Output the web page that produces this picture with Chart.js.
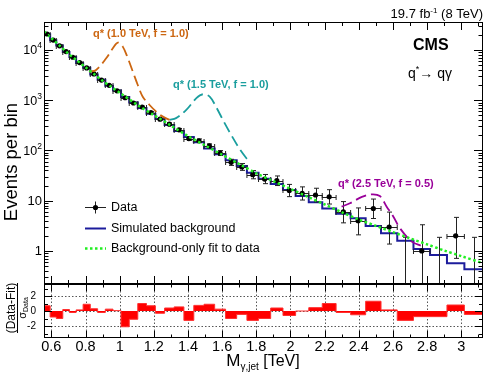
<!DOCTYPE html>
<html>
<head>
<meta charset="utf-8">
<script src="https://cdn.jsdelivr.net/npm/chart.js@4.4.0/dist/chart.umd.min.js"></script>
<style>
	html, body { margin: 0; padding: 0; background: #fff; }
	#wrap { position: relative; width: 498px; height: 375px; }
	canvas { position: absolute; left: 0; top: 0; }
</style>
</head>
<body>
<div id="wrap">
	<canvas id="mainPad" width="498" height="375"></canvas>
	<canvas id="pullPad" width="498" height="375"></canvas>
</div>
<script>
// bin edges of the photon+jet mass spectrum (TeV)
const massEdges = [0.557, 0.593, 0.629, 0.667, 0.706, 0.745, 0.786, 0.828, 0.871, 0.916,
	0.961, 1.008, 1.056, 1.106, 1.157, 1.209, 1.263, 1.319, 1.376, 1.434,
	1.494, 1.556, 1.620, 1.685, 1.745, 1.813, 1.884, 1.956, 2.030, 2.107,
	2.186, 2.267, 2.352, 2.440, 2.530, 2.625, 2.720, 2.817, 2.916, 3.018, 3.127];

// events per bin
const dataCounts = [20750, 15750, 12080, 9290, 7163, 5611, 4384, 3327, 2515, 1981,
	1537, 1118, 879, 733, 567, 420, 334, 257, 172, 156,
	123, 89, 58, 47, 33, 27, 25, 16, 14, 13,
	12, 6, 4, 7, 3, 0, 1, 0, 2, 0];

const simBackground = [20500, 15600, 12300, 9150, 7250, 5500, 4400, 3250, 2560, 1950,
	1560, 1160, 905, 700, 540, 425, 322, 245, 186, 146,
	110, 84, 64, 49, 36, 27.5, 21.5, 16.3, 12.4, 9.3,
	7.0, 5.5, 4.5, 3.15, 2.25, 1.6, 1.1, 0.83, 0.57, 0.43];

// (Data-Fit)/sigma per bin
const pulls = [0.7, -0.8, -1.0, 0.2, -0.2, 0.15, 0.9, 0.3, -0.2, 0.25,
	0.05, -2.1, -1.1, 1.0, 0.7, -0.3, 0.4, 0.55, -1.25, 0.75,
	0.9, 0.25, -1.0, -0.45, -1.25, -1.0, 0.4, -0.6, 0, 0.45,
	1.0, -0.2, -0.5, 1.3, 0.15, -1.25, -0.75, -0.75, 0.8, -0.45];

// background-only fit curve
const fitMass = [0.557, 0.6, 0.65, 0.7, 0.75, 0.8, 0.85, 0.9, 0.95, 1.0, 1.1, 1.2, 1.3, 1.4, 1.5,
	1.6, 1.7, 1.8, 1.9, 2.0, 2.1, 2.2, 2.3, 2.4, 2.5, 2.6, 2.7, 2.8, 2.9, 3.0, 3.127];
const fitValues = [23440, 17180, 12020, 8414, 6166, 4519, 3311, 2427, 1849, 1413, 822, 507, 313, 193, 126,
	82.2, 53.7, 35.1, 24.5, 17.2, 12.0, 8.41, 5.89, 4.22, 3.16, 2.37, 1.78, 1.35, 1.02, 0.79, 0.57];

// excited quark signal shapes
const q1000Mass = [0.823, 0.862, 0.921, 0.960, 0.989, 1.018, 1.048, 1.077, 1.106, 1.135, 1.175, 1.214, 1.253, 1.292];
const q1000Values = [3700, 4000, 6820, 10800, 14000, 11650, 6820, 3700, 2010, 1175, 803, 592, 471, 405];
const q1500Mass = [1.292, 1.33, 1.39, 1.449, 1.487, 1.527, 1.566, 1.605, 1.644, 1.70, 1.742, 1.765];
const q1500Values = [405, 440, 640, 1097, 1313, 1178, 720, 400, 230, 110, 70, 58];
const q2500Mass = [2.299, 2.348, 2.418, 2.475, 2.523, 2.563, 2.60, 2.641, 2.71, 2.768];
const q2500Values = [7.62, 8.89, 11.9, 13.4, 12.4, 7.62, 4.98, 2.83, 1.53, 1.26];

// axis ticks
const massTicks = [0.6, 0.8, 1.0, 1.2, 1.4, 1.6, 1.8, 2.0, 2.2, 2.4, 2.6, 2.8, 3.0];
const eventTicks = [1, 10, 100, 1000, 10000];
const pullTicks = [-2, 0, 2];

const FONT = "'Liberation Sans', Arial, Helvetica, sans-serif";
const COL_Q1000 = "#cc6611";
const COL_Q1500 = "#1a9e9e";
const COL_Q2500 = "#990099";
const COL_SIM = "#1c1c9c";
const COL_FIT = "#22ee22";

function garwoodLow(n) {
	if (n === 0) return 0;
	const a = 1 - 1 / (9 * n) - 1 / (3 * Math.sqrt(n));
	return n * a * a * a;
}
function garwoodHigh(n) {
	return n + 1 + Math.sqrt(n + 0.75);
}

function histPoints(edges, values) {
	const pts = values.map((v, i) => ({ x: edges[i], y: v }));
	pts.push({ x: edges[edges.length - 1], y: values[values.length - 1] });
	return pts;
}

function textWithSup(ctx, parts, x, y, align) {
	// parts: [text, size, dy, bold]
	let total = 0;
	parts.forEach((p) => {
		ctx.font = (p[3] ? "bold " : "") + p[1] + "px " + FONT;
		total += ctx.measureText(p[0]).width;
	});
	let cx = align === "right" ? x - total : align === "center" ? x - total / 2 : x;
	ctx.textAlign = "left";
	parts.forEach((p) => {
		ctx.font = (p[3] ? "bold " : "") + p[1] + "px " + FONT;
		ctx.fillText(p[0], cx, y + p[2]);
		cx += ctx.measureText(p[0]).width;
	});
}

const errorBars = {
	id: "errorBars",
	beforeDatasetDraw(chart, args) {
		if (chart.data.datasets[args.index].label !== "Data") return;
		const { ctx, chartArea: a, scales: { x, y } } = chart;
		ctx.save();
		ctx.beginPath();
		ctx.rect(a.left, a.top, a.right - a.left, a.bottom - a.top);
		ctx.clip();
		ctx.strokeStyle = "#222";
		ctx.lineWidth = 1;
		dataCounts.forEach((n, i) => {
			const xl = x.getPixelForValue(massEdges[i]);
			const xr = x.getPixelForValue(massEdges[i + 1]);
			const xc = Math.round((xl + xr) / 2) + 0.5;
			const yt = y.getPixelForValue(garwoodHigh(n));
			const yb = n > 0 ? y.getPixelForValue(garwoodLow(n)) : a.bottom + 10;
			ctx.beginPath();
			ctx.moveTo(xc, yt);
			ctx.lineTo(xc, yb);
			ctx.moveTo(xc - 2.5, yt);
			ctx.lineTo(xc + 2.5, yt);
			ctx.moveTo(xc - 2.5, yb);
			ctx.lineTo(xc + 2.5, yb);
			if (n > 0) {
				const yc = Math.round(y.getPixelForValue(n)) + 0.5;
				ctx.moveTo(xl, yc);
				ctx.lineTo(xr, yc);
				ctx.moveTo(xl, yc - 2.5);
				ctx.lineTo(xl, yc + 2.5);
				ctx.moveTo(xr, yc - 2.5);
				ctx.lineTo(xr, yc + 2.5);
			}
			ctx.stroke();
		});
		ctx.restore();
	},
};

const mainDecor = {
	id: "mainDecor",
	afterDraw(chart) {
		const { ctx, chartArea: a, scales: { x, y } } = chart;
		ctx.save();
		ctx.strokeStyle = "#000";
		ctx.fillStyle = "#000";
		ctx.lineWidth = 1;
		ctx.strokeRect(a.left + 0.5, a.top + 0.5, a.right - a.left - 1, a.bottom - a.top - 1);

		// x ticks, top and bottom, inside the frame
		ctx.beginPath();
		for (let m = 0.6; m < 3.13; m += 0.1) {
			const px = Math.round(x.getPixelForValue(m)) + 0.5;
			const major = massTicks.some((t) => Math.abs(t - m) < 1e-6);
			const len = major ? 8 : 4;
			ctx.moveTo(px, a.top);
			ctx.lineTo(px, a.top + len);
			ctx.moveTo(px, a.bottom);
			ctx.lineTo(px, a.bottom - len);
		}
		// y ticks, left and right
		for (let d = 0.1; d <= 10000; d *= 10) {
			for (let k = 1; k < 10; k++) {
				const v = d * k;
				if (v < y.min || v > y.max) continue;
				const py = Math.round(y.getPixelForValue(v)) + 0.5;
				const len = k === 1 ? 9 : 4.5;
				ctx.moveTo(a.left, py);
				ctx.lineTo(a.left + len, py);
				ctx.moveTo(a.right, py);
				ctx.lineTo(a.right - len, py);
			}
		}
		ctx.stroke();

		// y tick labels
		ctx.textBaseline = "middle";
		eventTicks.forEach((v) => {
			const py = y.getPixelForValue(v);
			if (v < 100) {
				ctx.font = "13px " + FONT;
				ctx.textAlign = "right";
				ctx.fillText(String(v), 42, py + 0.5);
			} else {
				const exp = String(Math.round(Math.log10(v)));
				textWithSup(ctx, [["10", 12.5, 1], [exp, 8.5, -4]], 42, py, "right");
			}
		});

		// y title
		ctx.save();
		ctx.translate(12, 162);
		ctx.rotate(-Math.PI / 2);
		ctx.font = "18.5px " + FONT;
		ctx.textAlign = "center";
		ctx.textBaseline = "middle";
		ctx.fillText("Events per bin", 0, 0);
		ctx.restore();

		// header
		ctx.textBaseline = "alphabetic";
		textWithSup(ctx, [["19.7 fb", 13, 0], ["-1", 8, -5], [" (8 TeV)", 13, 0]], 483, 17.5, "right");
		ctx.font = "bold 16px " + FONT;
		ctx.textAlign = "left";
		ctx.fillText("CMS", 413, 50);
		textWithSup(ctx, [["q", 14, 0], ["*", 9, -6], ["\u2192 q\u03b3", 14, 0]], 430, 78, "center");

		// signal labels
		ctx.font = "bold 11px " + FONT;
		ctx.textAlign = "left";
		ctx.fillStyle = COL_Q1000;
		ctx.fillText("q* (1.0 TeV, f = 1.0)", 93, 37);
		ctx.fillStyle = COL_Q1500;
		ctx.fillText("q* (1.5 TeV, f = 1.0)", 173, 88);
		ctx.fillStyle = COL_Q2500;
		ctx.fillText("q* (2.5 TeV, f = 0.5)", 338, 187);

		// legend
		ctx.fillStyle = "#000";
		ctx.strokeStyle = "#222";
		ctx.lineWidth = 1;
		ctx.beginPath();
		ctx.moveTo(85, 207.5);
		ctx.lineTo(106, 207.5);
		ctx.moveTo(95.5, 201.5);
		ctx.lineTo(95.5, 213.5);
		ctx.stroke();
		ctx.beginPath();
		ctx.arc(95.5, 207.5, 2.6, 0, Math.PI * 2);
		ctx.fill();
		ctx.strokeStyle = COL_SIM;
		ctx.lineWidth = 2;
		ctx.beginPath();
		ctx.moveTo(85, 228.5);
		ctx.lineTo(106, 228.5);
		ctx.stroke();
		ctx.strokeStyle = COL_FIT;
		ctx.lineWidth = 2.5;
		ctx.setLineDash([2.5, 2.5]);
		ctx.beginPath();
		ctx.moveTo(85, 248.5);
		ctx.lineTo(106, 248.5);
		ctx.stroke();
		ctx.setLineDash([]);
		ctx.font = "12.5px " + FONT;
		ctx.textBaseline = "middle";
		ctx.fillText("Data", 111, 208);
		ctx.fillText("Simulated background", 111, 229);
		ctx.fillText("Background-only fit to data", 111, 249);
		ctx.restore();
	},
};

const pullGrid = {
	id: "pullGrid",
	beforeDatasetsDraw(chart) {
		const { ctx, chartArea: a, scales: { x, y } } = chart;
		ctx.save();
		ctx.strokeStyle = "#555";
		ctx.lineWidth = 1;
		ctx.setLineDash([1.5, 2]);
		ctx.beginPath();
		massTicks.forEach((m) => {
			const px = Math.round(x.getPixelForValue(m)) + 0.5;
			ctx.moveTo(px, a.top);
			ctx.lineTo(px, a.bottom);
		});
		pullTicks.forEach((p) => {
			const py = Math.round(y.getPixelForValue(p)) + 0.5;
			ctx.moveTo(a.left, py);
			ctx.lineTo(a.right, py);
		});
		ctx.stroke();
		ctx.restore();
	},
	afterDraw(chart) {
		const { ctx, chartArea: a, scales: { x, y } } = chart;
		ctx.save();
		ctx.strokeStyle = "#000";
		ctx.fillStyle = "#000";
		ctx.lineWidth = 1;
		ctx.strokeRect(a.left + 0.5, a.top + 0.5, a.right - a.left - 1, a.bottom - a.top - 1);
		ctx.beginPath();
		for (let m = 0.6; m < 3.13; m += 0.1) {
			const px = Math.round(x.getPixelForValue(m)) + 0.5;
			const major = massTicks.some((t) => Math.abs(t - m) < 1e-6);
			const len = major ? 7 : 3.5;
			ctx.moveTo(px, a.top);
			ctx.lineTo(px, a.top + len);
			ctx.moveTo(px, a.bottom);
			ctx.lineTo(px, a.bottom - len);
		}
		for (let p = -3; p <= 3; p += 1) {
			const py = Math.round(y.getPixelForValue(p)) + 0.5;
			const len = p % 2 === 0 ? 8 : 4;
			ctx.moveTo(a.left, py);
			ctx.lineTo(a.left + len, py);
			ctx.moveTo(a.right, py);
			ctx.lineTo(a.right - len, py);
		}
		ctx.stroke();

		ctx.font = "10px " + FONT;
		ctx.textAlign = "right";
		ctx.textBaseline = "middle";
		pullTicks.forEach((p) => {
			ctx.fillText(String(p), 36, y.getPixelForValue(p) + 0.5);
		});

		ctx.font = "14.5px " + FONT;
		ctx.textAlign = "center";
		ctx.textBaseline = "middle";
		massTicks.forEach((m) => {
			const label = Math.abs(m - Math.round(m)) < 1e-6 ? String(Math.round(m)) : m.toFixed(1);
			ctx.fillText(label, x.getPixelForValue(m), 347);
		});

		// x title
		ctx.textBaseline = "alphabetic";
		textWithSup(ctx, [["M", 17, 0], ["\u03b3,jet", 10, 4], [" [TeV]", 16, 0]], 263, 366, "center");

		// pull title as a fraction
		ctx.save();
		ctx.translate(17, 308);
		ctx.rotate(-Math.PI / 2);
		ctx.font = "12px " + FONT;
		ctx.textAlign = "center";
		ctx.textBaseline = "alphabetic";
		ctx.fillText("(Data-Fit)", 0, -2.5);
		ctx.beginPath();
		ctx.moveTo(-25, 0.5);
		ctx.lineTo(25, 0.5);
		ctx.stroke();
		textWithSup(ctx, [["\u03c3", 11, 0], ["Data", 7, 2]], 0, 8.5, "center");
		ctx.restore();
		ctx.restore();
	},
};

new Chart(document.getElementById("mainPad").getContext("2d"), {
	type: "line",
	data: {
		datasets: [
			{
				label: "Fit",
				data: fitMass.map((m, i) => ({ x: m, y: fitValues[i] })),
				borderColor: COL_FIT,
				borderWidth: 2.5,
				borderDash: [2.5, 2.5],
				pointRadius: 0,
				tension: 0.3,
				fill: false,
			},
			{
				label: "q1000",
				data: q1000Mass.map((m, i) => ({ x: m, y: q1000Values[i] })),
				borderColor: COL_Q1000,
				borderWidth: 1.8,
				borderDash: [11, 5],
				pointRadius: 0,
				tension: 0.35,
				fill: false,
			},
			{
				label: "q1500",
				data: q1500Mass.map((m, i) => ({ x: m, y: q1500Values[i] })),
				borderColor: COL_Q1500,
				borderWidth: 1.8,
				borderDash: [11, 5],
				pointRadius: 0,
				tension: 0.35,
				fill: false,
			},
			{
				label: "q2500",
				data: q2500Mass.map((m, i) => ({ x: m, y: q2500Values[i] })),
				borderColor: COL_Q2500,
				borderWidth: 1.8,
				borderDash: [11, 5],
				pointRadius: 0,
				tension: 0.35,
				fill: false,
			},
			{
				label: "Data",
				data: dataCounts.map((n, i) => ({
					x: (massEdges[i] + massEdges[i + 1]) / 2,
					y: n > 0 ? n : null,
				})),
				showLine: false,
				pointRadius: 2.6,
				pointBackgroundColor: "#000",
				pointBorderColor: "#000",
				pointBorderWidth: 0,
			},
			{
				label: "Simulated background",
				data: histPoints(massEdges, simBackground),
				borderColor: COL_SIM,
				borderWidth: 2,
				stepped: true,
				pointRadius: 0,
				fill: false,
			},
		],
	},
	options: {
		responsive: false,
		animation: false,
		devicePixelRatio: 1,
		layout: { padding: { left: 44, right: 15, top: 22, bottom: 91 } },
		scales: {
			x: { type: "linear", min: 0.557, max: 3.127, display: false },
			y: { type: "logarithmic", min: 0.22, max: 36000, display: false },
		},
		plugins: { legend: { display: false }, tooltip: { enabled: false } },
	},
	plugins: [errorBars, mainDecor],
});

new Chart(document.getElementById("pullPad").getContext("2d"), {
	type: "line",
	data: {
		datasets: [
			{
				label: "Pull",
				data: histPoints(massEdges, pulls),
				borderColor: "#ff3030",
				borderWidth: 1,
				backgroundColor: "#ff0000",
				stepped: true,
				pointRadius: 0,
				fill: "origin",
			},
		],
	},
	options: {
		responsive: false,
		animation: false,
		devicePixelRatio: 1,
		layout: { padding: { left: 44, right: 15, top: 284, bottom: 37 } },
		scales: {
			x: { type: "linear", min: 0.557, max: 3.127, display: false },
			y: { type: "linear", min: -3.6, max: 3.6, display: false },
		},
		plugins: { legend: { display: false }, tooltip: { enabled: false } },
	},
	plugins: [pullGrid],
});
</script>
</body>
</html>
